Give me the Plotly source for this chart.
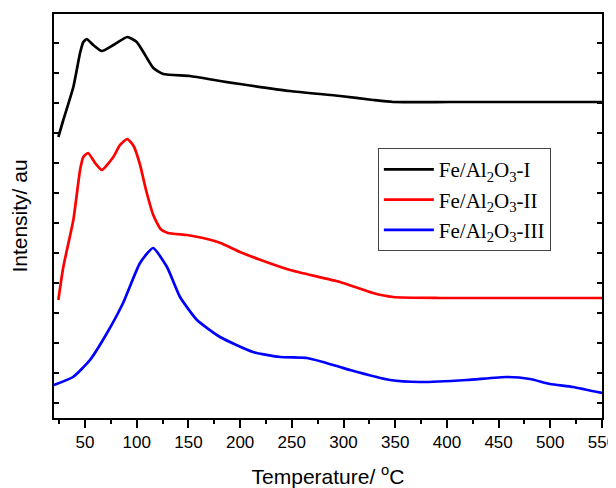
import plotly.graph_objects as go

# Fe/Al2O3-I (black)
t_I = [24.2, 29.0, 38.7, 45.2, 48.4, 51.6, 58.0, 66.2, 77.4, 90.9, 100.0, 106.4, 116.1, 125.7,
       151.5, 180.6, 199.9, 248.3, 296.6, 328.5, 347.9, 403, 550]
y_I = [281, 298, 331, 365, 376, 379, 373, 367, 373, 381, 376, 366, 350, 344,
       342, 337, 334, 327, 322, 318, 316, 316, 316]

# Fe/Al2O3-II (red)
t_II = [24.2, 29.0, 38.7, 45.2, 48.4, 53.0, 59.7, 66.2, 77.4, 83.8, 90.9, 97.0, 103.0, 109.0,
        116.0, 123.0, 130.0, 148.6, 164.1, 181.0, 199.9, 217.3, 248.3, 296.6, 328.5, 347.9, 393.3, 550]
y_II = [118, 151, 198, 248, 261, 265, 255, 248, 261, 273, 279, 272, 254, 228,
        203, 189, 185, 183, 180, 175, 166, 159, 148, 136, 125, 121, 120, 120]

# Fe/Al2O3-III (blue)
t_III = [20, 38.4, 54.8, 71.3, 86.8, 103.2, 115.8, 129.3, 141.9, 158.3, 180.6, 212.5, 238.6,
         264.7, 280.2, 296.6, 306.3, 344.9, 374, 419.4, 458.1, 480.4, 499.7, 521.9, 550]
y_III = [33, 41, 58, 85, 115, 155, 170, 151, 121, 98, 81, 66, 61,
         60, 56, 51, 48, 38, 36, 38, 41, 39, 34, 31, 25]

names = ["Fe/Al<sub>2</sub>O<sub>3</sub>-I",
         "Fe/Al<sub>2</sub>O<sub>3</sub>-II",
         "Fe/Al<sub>2</sub>O<sub>3</sub>-III"]
colors = ["#000000", "#ff0000", "#0000ff"]

x_ticks = [50, 100, 150, 200, 250, 300, 350, 400, 450, 500, 550]
x_minor = [25, 75, 125, 175, 225, 275, 325, 375, 425, 475, 525]
y_ticks = [15, 45, 75, 105, 135, 165, 195, 225, 255, 285, 315, 345, 375]

fig = go.Figure()
for t, y, n, c in zip([t_I, t_II, t_III], [y_I, y_II, y_III], names, colors):
    fig.add_trace(go.Scatter(x=t, y=y, mode="lines", name=n,
                             line=dict(color=c, width=2.7, shape="spline", smoothing=0.5)))

# page body has an 8px margin, so the figure is placed at (8, 8)
fig.update_layout(
    width=616, height=480,
    margin=dict(l=46, r=22, t=6, b=70),
    paper_bgcolor="white", plot_bgcolor="white",
    font=dict(family="Liberation Sans, Arial", size=17, color="black"),
    legend=dict(x=0.591, y=0.668, xanchor="left", yanchor="top",
                bordercolor="#444", borderwidth=1, bgcolor="white", itemwidth=50,
                font=dict(family="Liberation Serif, Times New Roman", size=21, color="black"),
                tracegroupgap=0),
    showlegend=True,
)
fig.update_xaxes(
    range=[20, 550], tickvals=x_ticks, ticks="outside", ticklen=8, tickwidth=1.5,
    tickcolor="black", showline=True, linecolor="black", linewidth=1.5, mirror=True,
    showgrid=False, zeroline=False, automargin=False,
    tickfont=dict(size=17),
    minor=dict(tickvals=x_minor, ticks="outside", ticklen=4, tickcolor="black", tickwidth=1.5),
    title=dict(text="Temperature/ <sup>o</sup>C", font=dict(size=21), standoff=18),
)
fig.update_yaxes(
    range=[0, 404], tickvals=y_ticks, ticks="inside", ticklen=5, tickwidth=1.5,
    tickcolor="black", showticklabels=False, showline=True, linecolor="black",
    linewidth=1.5, mirror="ticks", showgrid=False, zeroline=False, automargin=False,
    title=dict(text="Intensity/ au", font=dict(size=21), standoff=19),
)

fig.write_html("out.html")
